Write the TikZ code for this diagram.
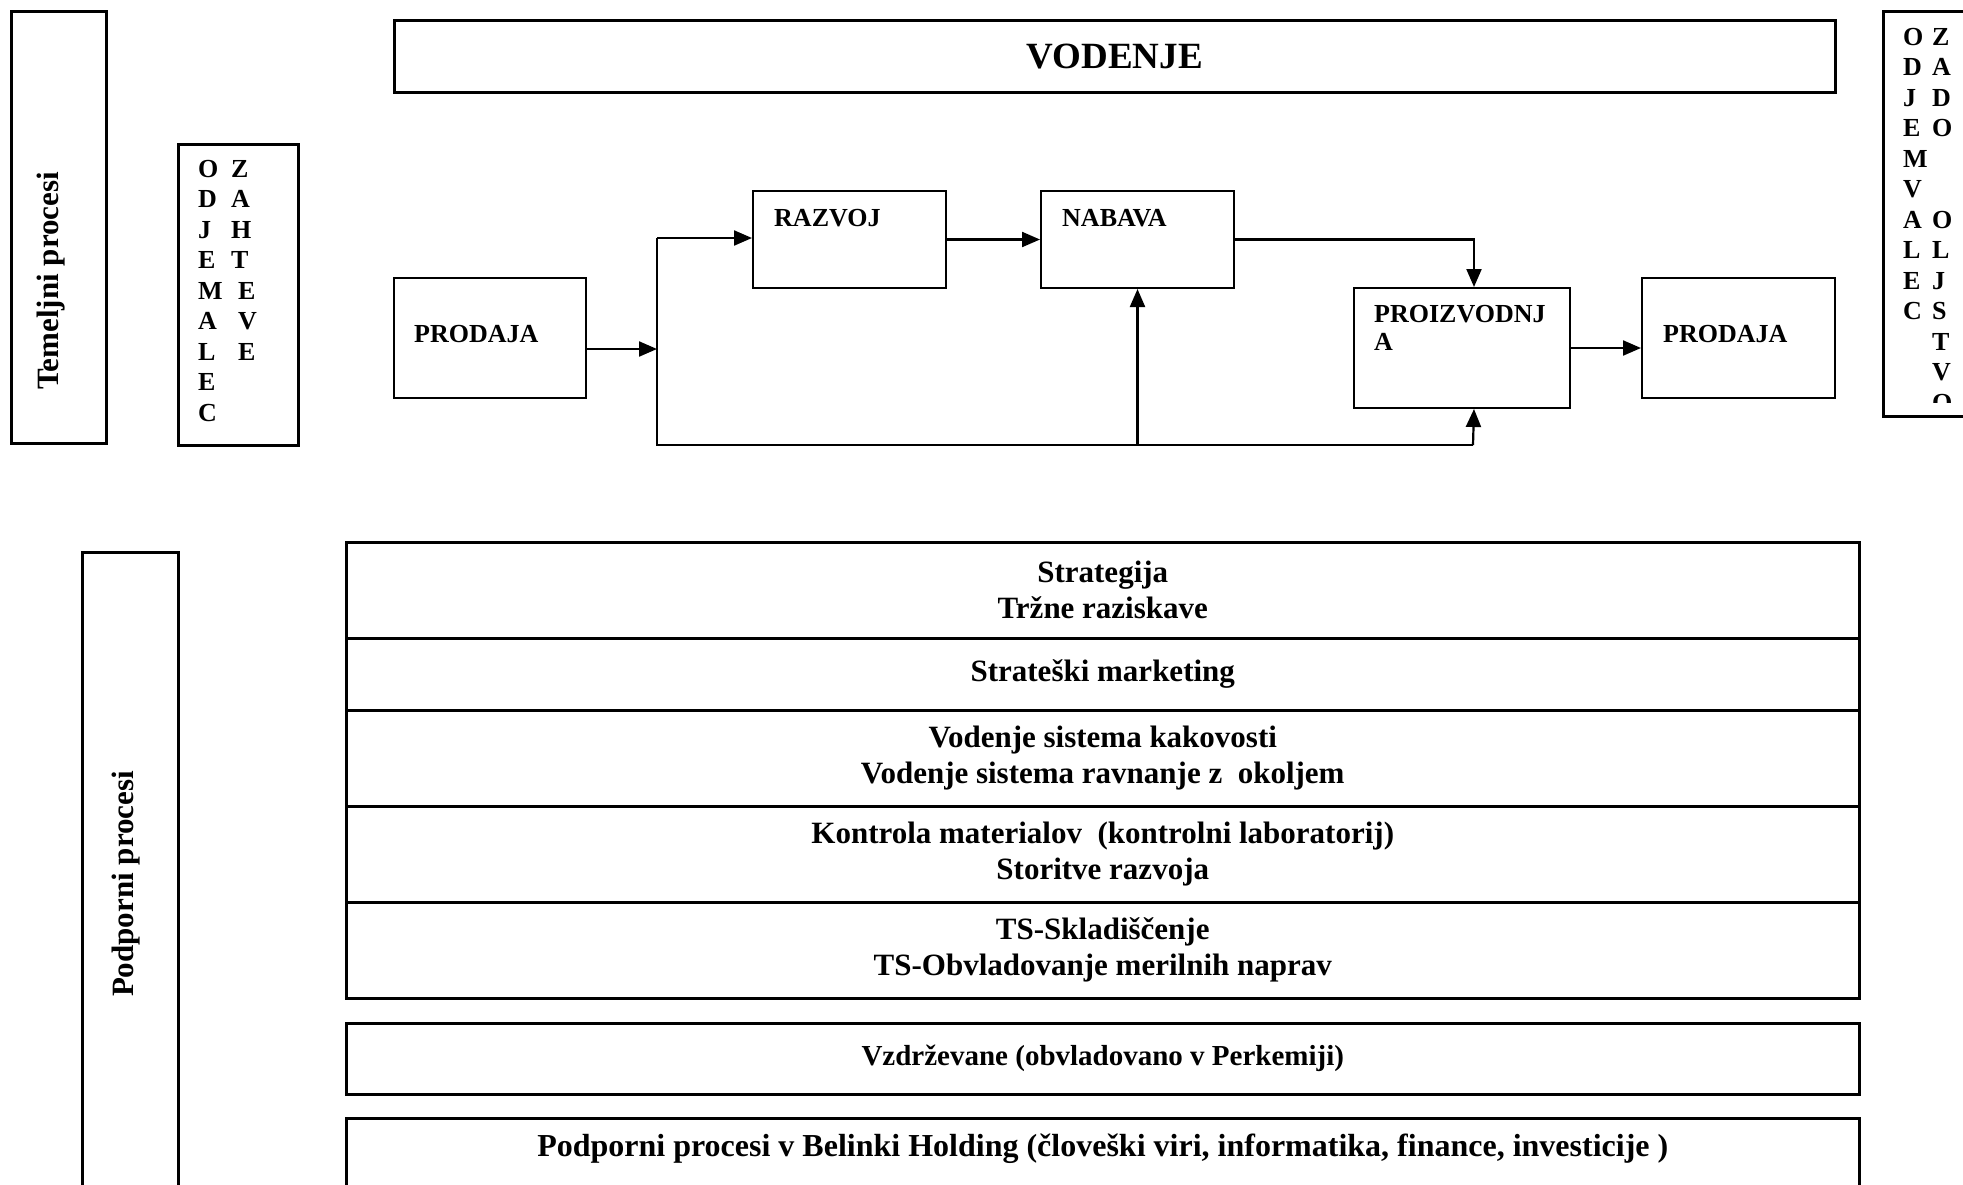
\documentclass[tikz,border=0pt]{standalone}
\usepackage{fontspec}
\setmainfont{Liberation Serif}
\usetikzlibrary{arrows.meta}

\tikzset{
  frame/.style={draw, line width=2.5pt, inner sep=0pt, anchor=north west},
  flowbox/.style={draw, line width=2pt, inner sep=0pt, anchor=north west},
  flowtext/.style={inner sep=0pt, anchor=north west, align=left, font=\fontsize{26}{28}\selectfont\bfseries},
  rowbox/.style={draw, line width=2.5pt, inner sep=0pt, anchor=north west, minimum width=1513, align=center, font=\fontsize{31}{36}\selectfont\bfseries},
  sidetext/.style={rotate=90, anchor=base, inner sep=0pt, font=\fontsize{31}{36}\selectfont\bfseries},
  letters/.style={inner sep=0pt, anchor=north west, align=left, font=\fontsize{26}{30.5}\selectfont\bfseries},
  flow/.style={line width=2.2pt, -{Triangle[length=18pt,width=15pt]}},
  plain/.style={line width=2.2pt},
}

\begin{document}
\begin{tikzpicture}[x=1pt, y=-1pt]
    \useasboundingbox (0,0) rectangle (1963,1184);
    \clip (0,0) rectangle (1963,1184);

    % Core processes label
    \node[frame, minimum width=95, minimum height=432] (temeljni) at (10,10) {};
    \node[sidetext] (temeljniT) at (58,281) {Temeljni procesi};

    % Customer requirements
    \node[frame, minimum width=120, minimum height=301] (zahteve) at (177,143) {};
    \node[letters] (odjemalecL) at (198,160) {O\\D\\J\\E\\M\\A\\L\\E\\C};
    \node[letters] (zahteveL) at (231,160) {Z\\A\\H\\T\\\hspace*{7pt}E\\\hspace*{7pt}V\\\hspace*{7pt}E};

    % Management
    \node[frame, minimum width=1441, minimum height=72, font=\fontsize{37}{40}\selectfont\bfseries] (vodenje) at (393,19) {VODENJE};

    % Customer satisfaction
    \node[frame, minimum width=120, minimum height=405] (zadovoljstvo) at (1882,10) {};
    \begin{scope}
        \clip (1882,10) rectangle (1963,402);
        \node[letters] (odjemalecR) at (1903,28) {O\\D\\J\\E\\M\\V\\A\\L\\E\\C};
        \node[letters] (zadovoljstvoL) at (1932,28) {Z\\A\\D\\O\\\phantom{O}\\\phantom{O}\\O\\L\\J\\S\\T\\V\\O};
    \end{scope}

    % Process chain
    \node[flowbox, minimum width=192, minimum height=120] (prodajaL) at (393,277) {};
    \node[flowtext] (prodajaLT) at ([shift={(21,48)}]prodajaL.north west) {PRODAJA};
    \node[flowbox, minimum width=193, minimum height=97] (razvoj) at (752,190) {};
    \node[flowtext] (razvojT) at ([shift={(22,19)}]razvoj.north west) {RAZVOJ};
    \node[flowbox, minimum width=193, minimum height=97] (nabava) at (1040,190) {};
    \node[flowtext] (nabavaT) at ([shift={(22,19)}]nabava.north west) {NABAVA};
    \node[flowbox, minimum width=216, minimum height=120] (proizvodnja) at (1353,287) {};
    \node[flowtext] (proizvodnjaT) at ([shift={(21,18)}]proizvodnja.north west) {PROIZVODNJ\\A};
    \node[flowbox, minimum width=193, minimum height=120] (prodajaR) at (1641,277) {};
    \node[flowtext] (prodajaRT) at ([shift={(22,48)}]prodajaR.north west) {PRODAJA};

    % Branch points
    \coordinate (split) at (657,349);
    \coordinate (splittop) at (657,238);
    \coordinate (splitbot) at (657,445);
    \coordinate (nabavabot) at (nabava.south |- splitbot);
    \coordinate (proizbot) at (1473,445);

    % Connectors
    \draw[flow] (prodajaL.east |- split) -- (split);
    \draw[plain] (splittop) -- (splitbot) -- (proizbot);
    \draw[flow] (splittop) -- (splittop -| razvoj.west);
    \draw[flow] (razvoj) -- (nabava);
    \draw[flow] (nabava.east) -| ([xshift=12pt]proizvodnja.north);
    \draw[flow] (nabavabot) -- (nabava.south);
    \draw[flow] (proizbot) -- ([xshift=12pt]proizvodnja.south);
    \draw[flow] (proizvodnja.east) -- (proizvodnja.east -| prodajaR.west);

    % Support processes label
    \node[frame, minimum width=96, minimum height=666] (podporni) at (81,551) {};
    \node[sidetext] (podporniT) at (133,884) {Podporni procesi};

    % Support process rows
    \node[rowbox, minimum height=96] (strategija) at (345,541) {Strategija\\Tržne raziskave};
    \node[rowbox, minimum height=72] (marketing) at (345,637) {Strateški marketing};
    \node[rowbox, minimum height=96] (kakovost) at (345,709) {Vodenje sistema kakovosti\\Vodenje sistema ravnanje z\ \ okoljem};
    \node[rowbox, minimum height=96] (kontrola) at (345,805) {Kontrola materialov\ \ (kontrolni laboratorij)\\Storitve razvoja};
    \node[rowbox, minimum height=96] (skladiscenje) at (345,901) {TS-Skladiščenje\\TS-Obvladovanje merilnih naprav};

    % Maintenance
    \node[rowbox, minimum height=71, font=\fontsize{29}{34}\selectfont\bfseries] (vzdrzevanje) at (345,1022) {Vzdrževane (obvladovano v Perkemiji)};

    % Holding services
    \node[rowbox, minimum height=120] (holding) at (345,1117) {};
    \node[inner sep=0pt, anchor=base, font=\fontsize{32}{36}\selectfont\bfseries] (holdingT) at ([yshift=-39pt]holding.north) {Podporni procesi v Belinki Holding (človeški viri, informatika, finance, investicije )};
\end{tikzpicture}
\end{document}
